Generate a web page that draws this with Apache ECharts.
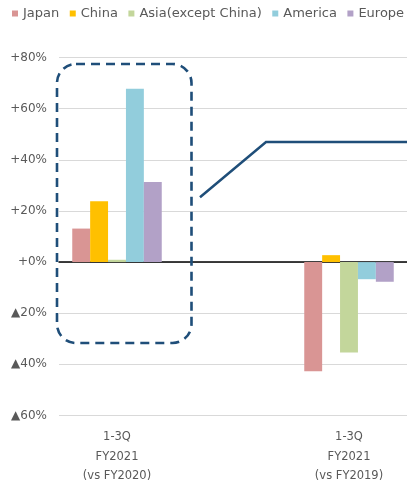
<!DOCTYPE html>
<html><head><meta charset="utf-8">
<script src="https://cdn.jsdelivr.net/npm/echarts@6/dist/echarts.min.js"></script>
<style>html,body{margin:0;padding:0;background:#fff}#c{width:407px;height:486px}</style>
</head><body><div id="c"></div>
<script>
var categories = ['1-3Q\nFY2021\n(vs FY2020)', '', '1-3Q\nFY2021\n(vs FY2019)'];
var seriesNames = ['Japan', 'China', 'Asia(except China)', 'America', 'Europe'];
var japan   = [13.1, null, -42.7];
var china   = [23.8, null, 2.7];
var asia    = [0.9, null, -35.4];
var america = [67.8, null, -6.7];
var europe  = [31.3, null, -7.7];
var yTicks = [-60, -40, -20, 0, 20, 40, 60, 80];
var colors = ['#d99594', '#ffc000', '#c3d69b', '#92cddc', '#b2a1c7'];

var values = [japan, china, asia, america, europe];
var chart = echarts.init(document.getElementById('c'), null, {renderer: 'canvas'});
var font = 'DejaVu Sans';
var option = {
  animation: false,
  color: colors,
  textStyle: {fontFamily: font},
  legend: {
    left: 12, top: 7, width: 395, padding: 0,
    icon: 'rect', itemWidth: 6, itemHeight: 6, itemGap: 10.5,
    textStyle: {fontSize: 13, color: '#595959', fontFamily: font},
    data: seriesNames
  },
  grid: {left: 59, right: -1, top: 57.5, bottom: 66, containLabel: false},
  xAxis: {
    type: 'category', data: categories,
    axisTick: {show: false},
    axisLine: {show: true, onZero: true, lineStyle: {color: '#000', width: 1.5}},
    axisLabel: {interval: 0, margin: 12, fontSize: 11.5, lineHeight: 19.5, color: '#595959', fontFamily: font}
  },
  yAxis: {
    type: 'value', min: yTicks[0], max: yTicks[yTicks.length - 1], interval: 20,
    axisLine: {show: false}, axisTick: {show: false},
    splitLine: {lineStyle: {color: '#d9d9d9', width: 1}},
    axisLabel: {
      margin: 12, fontSize: 12, color: '#595959', fontFamily: font,
      formatter: function (v) {
        if (v > 0) return '+' + v + '%';
        if (v === 0) return '+0%';
        return '\u25B2' + Math.abs(v) + '%';
      }
    }
  },
  series: seriesNames.map(function (n, i) {
    return {name: n, type: 'bar', data: values[i], barWidth: 17.9, barGap: '0%',
      itemStyle: {color: colors[i]}};
  }),
  graphic: [
    {type: 'rect', shape: {x: 57, y: 64, width: 134.5, height: 279, r: 19},
      style: {fill: 'none', stroke: '#1f4e79', lineWidth: 2.6, lineDash: [9, 6]}, z: 100},
    {type: 'polyline', shape: {points: [[200, 197.3], [266, 142], [408, 142]]},
      style: {fill: 'none', stroke: '#1f4e79', lineWidth: 2.5}, z: 100}
  ]
};
chart.setOption(option);
</script></body></html>
